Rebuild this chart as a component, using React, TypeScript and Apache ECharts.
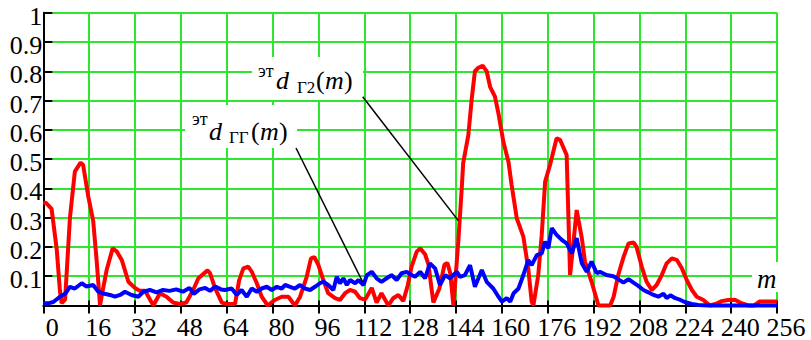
// Chart of эт d_Γ2(m) (red) and эт d_ΓΓ(m) (blue) over m = 0..256 — serif labels, label grids
import React, { useEffect, useRef } from 'react';
import * as echarts from 'echarts';

const xTickLabels = ['0', '16', '32', '48', '64', '80', '96', '112', '128', '144', '160', '176', '192', '208', '224', '240', '256'];
const yTickLabels = ['', '0.1', '0.2', '0.3', '0.4', '0.5', '0.6', '0.7', '0.8', '0.9', '1'];

const anchorG2 = [144.8, 0.29];
const anchorGG = [111.4, 0.081];

const redM = [0, 1, 2.9, 4.7, 5.8, 6.4, 7.6, 9.3, 11.0, 13.0, 13.9, 15.7, 17.4, 18.6, 19.8, 20.5, 22.1, 24.2, 25.6, 27.4, 29.7, 32, 33.7, 35.5, 38.4, 40.7, 43, 45.3, 47.6, 49.9, 52.3, 54.1, 57.3, 58.2, 59.9, 62.3, 64, 66.9, 68.3, 69.8, 71.5, 72.7, 74.5, 76.2, 78.3, 80.8, 83.2, 85.5, 87.8, 89.6, 91.9, 93.4, 94.6, 96, 97.7, 99.4, 101.8, 103.5, 105.3, 107, 108.8, 110.5, 112.3, 114.6, 116.3, 118, 120.4, 122.1, 123.9, 125.6, 127.2, 128.5, 130.3, 131.5, 133.2, 134.4, 135.3, 136.1, 138.2, 140, 141, 142, 143.1, 144.8, 146, 146.5, 148.3, 149.5, 150.6, 151.8, 153.3, 154.7, 155.9, 157.6, 158.8, 160.5, 162.3, 163.4, 165.2, 167.5, 169.2, 170.4, 171, 172.7, 173.9, 175.1, 176.8, 179.1, 180.3, 182.6, 183.8, 184.9, 186.1, 187.9, 189, 191.3, 193.7, 196, 197.8, 199, 200.6, 202.5, 204.2, 206, 207, 208.8, 210.5, 212.3, 214, 215.8, 217.5, 219.3, 221, 222.8, 224.5, 226.3, 228, 230.3, 232.6, 234.5, 236.7, 239, 241.3, 243.6, 246, 248, 250, 253, 256];
const redV = [0.352, 0.35, 0.33, 0.19, 0.05, 0.008, 0.02, 0.30, 0.457, 0.488, 0.48, 0.372, 0.29, 0.155, 0.0, 0.04, 0.121, 0.195, 0.185, 0.155, 0.081, 0.06, 0.05, 0.05, 0.0, 0.042, 0.03, 0.01, 0.005, 0.01, 0.053, 0.093, 0.12, 0.11, 0.06, 0.01, 0.005, 0.005, 0.085, 0.127, 0.133, 0.116, 0.076, 0.03, 0.0, 0.019, 0.03, 0.03, 0.0, 0.03, 0.098, 0.161, 0.165, 0.138, 0.087, 0.042, 0.025, 0.019, 0.042, 0.053, 0.047, 0.025, 0.02, 0.06, 0.01, 0.042, 0.0, 0.025, 0.036, 0.015, 0.07, 0.133, 0.184, 0.195, 0.175, 0.14, 0.07, 0.01, 0.058, 0.14, 0.145, 0.11, 0.0, 0.218, 0.40, 0.486, 0.582, 0.707, 0.80, 0.812, 0.819, 0.80, 0.747, 0.713, 0.656, 0.56, 0.491, 0.412, 0.298, 0.235, 0.127, 0.013, 0.0, 0.104, 0.24, 0.423, 0.48, 0.571, 0.566, 0.514, 0.104, 0.207, 0.326, 0.23, 0.15, 0.081, 0.0, 0.0, 0.0, 0.03, 0.104, 0.167, 0.212, 0.215, 0.2, 0.133, 0.081, 0.053, 0.07, 0.104, 0.144, 0.161, 0.156, 0.127, 0.087, 0.053, 0.03, 0.019, 0.0, 0.005, 0.015, 0.019, 0.02, 0.008, 0.0, 0.0, 0.014, 0.014, 0.014];

const blueM = [0, 2, 3.5, 5.8, 7.6, 9.3, 11, 13.4, 15, 17.4, 19.2, 20.9, 23.3, 25, 26.8, 28.5, 30.8, 33.2, 34.9, 37.2, 39.5, 41.8, 44, 46.4, 48.7, 51, 52.5, 54.5, 56.5, 58.2, 60, 62, 63.4, 65.7, 67.5, 69.2, 71, 72.7, 74.5, 76.2, 78, 79.7, 81.5, 83.2, 84.4, 86.1, 87.8, 89.6, 91.3, 93.1, 94.8, 96.5, 97.7, 99.4, 101.2, 102.4, 103.5, 104.7, 105.9, 107, 108.8, 110, 111.7, 112.9, 114.6, 116.3, 118, 119.8, 121.5, 123.3, 125, 126.8, 128.5, 129.7, 131.5, 133.2, 134.9, 136.7, 138.4, 140.2, 141.9, 144.3, 145.4, 147.1, 148.9, 150.6, 153, 154.7, 157, 158.8, 160, 161.7, 162.9, 164.1, 165.8, 167.5, 169.2, 170.4, 172.2, 173.9, 175.1, 176.2, 177.4, 179.1, 180.9, 182.6, 184.4, 186.1, 187.9, 189.6, 191.3, 193.1, 194.2, 196.5, 198.9, 200.6, 202.4, 204.2, 205.9, 207.6, 209.4, 211.1, 212.9, 214.6, 216.4, 217.5, 218.8, 220.5, 222.3, 224, 226.3, 228.5, 232, 240, 248, 256];
const blueV = [0.008, 0.008, 0.012, 0.03, 0.04, 0.064, 0.058, 0.076, 0.065, 0.07, 0.047, 0.041, 0.036, 0.03, 0.036, 0.047, 0.036, 0.03, 0.047, 0.053, 0.045, 0.053, 0.05, 0.055, 0.047, 0.06, 0.04, 0.055, 0.06, 0.05, 0.065, 0.055, 0.053, 0.058, 0.036, 0.053, 0.03, 0.058, 0.047, 0.058, 0.064, 0.053, 0.064, 0.058, 0.07, 0.064, 0.058, 0.07, 0.058, 0.053, 0.064, 0.076, 0.081, 0.07, 0.053, 0.098, 0.076, 0.093, 0.07, 0.087, 0.076, 0.087, 0.07, 0.104, 0.115, 0.093, 0.081, 0.093, 0.104, 0.087, 0.11, 0.115, 0.104, 0.098, 0.115, 0.093, 0.144, 0.127, 0.07, 0.104, 0.093, 0.115, 0.098, 0.104, 0.138, 0.064, 0.121, 0.081, 0.058, 0.03, 0.013, 0.025, 0.013, 0.042, 0.058, 0.104, 0.155, 0.138, 0.172, 0.178, 0.218, 0.195, 0.264, 0.241, 0.224, 0.212, 0.178, 0.23, 0.144, 0.115, 0.15, 0.11, 0.115, 0.104, 0.1, 0.09, 0.078, 0.09, 0.078, 0.067, 0.053, 0.045, 0.036, 0.03, 0.04, 0.025, 0.035, 0.025, 0.019, 0.011, 0.005, 0.002, 0.0, 0.0, 0.0, 0.0];

const SERIF = 'Liberation Serif, serif';
const GREEN = '#2ee62e';

export default function App() {
  const ref = useRef<HTMLDivElement>(null);
  useEffect(() => {
    if (!ref.current) return;
    const chart = echarts.init(ref.current, null, { renderer: 'svg' });

    const word = (text: string, x: number, y: number, size: number, italic = false) => {
      const style: any = { text, fontSize: size, fontFamily: SERIF, fill: '#000', verticalAlign: 'middle' };
      if (italic) style.fontStyle = 'italic';
      return { type: 'text', z: 20, x, y, style };
    };
    const leader = (x: number, y: number, coord: number[]) => [
      { x, y, symbol: 'none' },
      { coord, symbol: 'none' },
    ];
    const hiddenAxis = (gridIndex: number, min: number, max: number, interval: number) => ({
      type: 'value', gridIndex, min, max, interval, show: false,
    });

    chart.setOption({
      animation: false,
      grid: [
        { left: 43.3, right: 34, top: 12.7, bottom: 34.5 },
        // label-only grids: x labels sit ~9px right of their ticks, y labels ~3.5px below theirs
        { left: 52.3, right: 25, top: 12.7, bottom: 34.5 },
        { left: 43.3, right: 34, top: 16.2, bottom: 31 },
      ],
      xAxis: [
        {
          type: 'value', gridIndex: 0, min: 0, max: 256, interval: 16, position: 'bottom',
          axisLine: { show: true, onZero: false, lineStyle: { color: '#000', width: 2 } },
          axisTick: { show: true, inside: false, length: 8, lineStyle: { color: '#000', width: 2 } },
          axisLabel: { show: false },
          splitLine: { show: true, lineStyle: { color: GREEN, width: 2 } },
        },
        {
          type: 'value', gridIndex: 0, min: 0, max: 256, interval: 16, position: 'bottom',
          axisLine: { show: false },
          axisTick: { show: true, inside: true, length: 5, lineStyle: { color: '#000', width: 2 } },
          axisLabel: { show: false },
          splitLine: { show: false },
        },
        {
          type: 'value', gridIndex: 1, min: 0, max: 256, interval: 16, position: 'bottom',
          axisLine: { show: false }, axisTick: { show: false }, splitLine: { show: false },
          axisLabel: {
            show: true, fontSize: 26, fontFamily: SERIF, color: '#000', margin: 10,
            formatter: (v: number) => xTickLabels[Math.round(v / 16)] ?? '',
          },
        },
        hiddenAxis(2, 0, 256, 16),
      ],
      yAxis: [
        {
          type: 'value', gridIndex: 0, min: 0, max: 1, interval: 0.1,
          axisLine: { show: true, onZero: false, lineStyle: { color: '#000', width: 2 } },
          axisTick: { show: true, inside: true, length: 9, lineStyle: { color: '#000', width: 2 } },
          axisLabel: { show: false },
          splitLine: { show: true, lineStyle: { color: GREEN, width: 2 } },
        },
        hiddenAxis(1, 0, 1, 0.1),
        {
          type: 'value', gridIndex: 2, min: 0, max: 1, interval: 0.1,
          axisLine: { show: false }, axisTick: { show: false }, splitLine: { show: false },
          axisLabel: {
            show: true, fontSize: 26, fontFamily: SERIF, color: '#000', margin: 1,
            formatter: (v: number) => yTickLabels[Math.round(v * 10)] ?? '',
          },
        },
      ],
      series: [
        {
          name: 'dG2', type: 'line', xAxisIndex: 0, yAxisIndex: 0, clip: false,
          showSymbol: false, symbol: 'none', z: 3,
          lineStyle: { color: '#ff0000', width: 4 },
          data: redM.map((m, i) => [m, redV[i]]),
          markLine: {
            silent: true, symbol: 'none', z: 16, animation: false,
            label: { show: false },
            lineStyle: { color: '#000', width: 1.5, type: 'solid' },
            data: [leader(362.7, 96.7, anchorG2), leader(296, 148, anchorGG)],
          },
        },
        {
          name: 'dGG', type: 'line', xAxisIndex: 0, yAxisIndex: 0, clip: false,
          showSymbol: false, symbol: 'none', z: 4,
          lineStyle: { color: '#0000ff', width: 4 },
          data: blueM.map((m, i) => [m, blueV[i]]),
        },
      ],
      graphic: [
        { type: 'rect', z: 15, shape: { x: 252, y: 57, width: 111, height: 43 }, style: { fill: '#fff' } },
        { type: 'rect', z: 15, shape: { x: 185, y: 105, width: 112, height: 43 }, style: { fill: '#fff' } },
        { type: 'rect', z: 15, shape: { x: 752, y: 262, width: 40, height: 30 }, style: { fill: '#fff' } },
        word('эт', 258, 70.6, 18),
        word('d', 276, 80.5, 26, true),
        word('Γ2', 297, 87.2, 17),
        word('(', 316, 80.5, 26),
        word('m', 325, 80.5, 26, true),
        word(')', 344, 80.5, 26),
        word('эт', 192, 119, 18),
        word('d', 209, 131.2, 26, true),
        word('ΓΓ', 229, 137.4, 17),
        word('(', 251, 131.2, 26),
        word('m', 260, 131.2, 26, true),
        word(')', 279, 131.2, 26),
        word('m', 757, 279.2, 27, true),
      ],
    });
    return () => chart.dispose();
  }, []);
  return <div ref={ref} style={{ position: 'fixed', left: 0, top: 0, width: 811, height: 340, background: '#fff' }} />;
}
